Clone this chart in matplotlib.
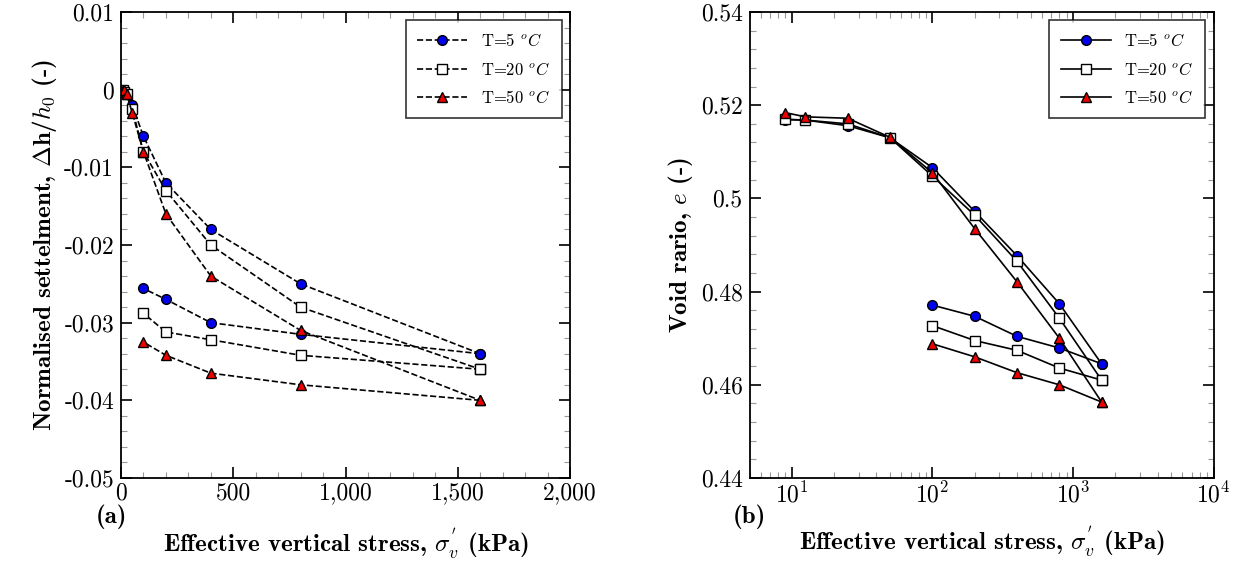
import matplotlib
matplotlib.use("Agg")
import matplotlib.pyplot as plt
from matplotlib.ticker import MultipleLocator, FuncFormatter, LogLocator

plt.rcParams["mathtext.fontset"] = "cm"
plt.rcParams["font.family"] = "cmr10"
plt.rcParams["axes.unicode_minus"] = False
plt.rcParams["axes.formatter.use_mathtext"] = True

load_stress = [9, 12.5, 25, 50, 100, 200, 400, 800, 1600]
unload_stress = [1600, 800, 400, 200, 100]

settle_load = {
    5: [0, -0.0002, -0.0005, -0.002, -0.006, -0.012, -0.018, -0.025, -0.034],
    20: [0, -0.0003, -0.0005, -0.0025, -0.008, -0.013, -0.020, -0.028, -0.036],
    50: [0, 0, -0.0005, -0.003, -0.008, -0.016, -0.024, -0.031, -0.040],
}
settle_unload = {
    5: [-0.034, -0.0315, -0.030, -0.027, -0.0256],
    20: [-0.036, -0.0342, -0.0322, -0.0312, -0.0288],
    50: [-0.040, -0.038, -0.0365, -0.0342, -0.0325],
}
void_load = {
    5: [0.5169, 0.5168, 0.5156, 0.5130, 0.5066, 0.4972, 0.4877, 0.4774, 0.4645],
    20: [0.5170, 0.5168, 0.5160, 0.5130, 0.5048, 0.4964, 0.4865, 0.4743, 0.4610],
    50: [0.5184, 0.5175, 0.5172, 0.5131, 0.5055, 0.4935, 0.4821, 0.4700, 0.4563],
}
void_unload = {
    5: [0.4645, 0.4679, 0.4704, 0.4747, 0.4771],
    20: [0.4610, 0.4636, 0.4674, 0.4695, 0.4727],
    50: [0.4563, 0.4600, 0.4626, 0.4660, 0.4688],
}

styles = {
    5: dict(marker="o", mfc="#0000ee", mec="black"),
    20: dict(marker="s", mfc="white", mec="black"),
    50: dict(marker="^", mfc="#ee0000", mec="black"),
}


def style_axes(ax):
    ax.tick_params(which="both", direction="in", top=True, right=True, labelsize=17, pad=5)
    ax.tick_params(axis="x", pad=3)
    ax.tick_params(which="major", length=8, width=1.2)
    ax.tick_params(which="minor", length=4, width=0.8, color="#999999")
    for s in ax.spines.values():
        s.set_linewidth(1.3)


fig = plt.figure(figsize=(12.51, 5.72), dpi=100)
ax1 = fig.add_axes([121 / 1251, 94 / 572, 449 / 1251, 466 / 572])
ax2 = fig.add_axes([749.5 / 1251, 94 / 572, 464 / 1251, 466 / 572])

for T in (5, 20, 50):
    st = styles[T]
    ax1.plot(load_stress, settle_load[T], ls="--", color="black", lw=1.2, ms=7,
             label=f"T={T} $^oC$", **st)
    ax1.plot(unload_stress, settle_unload[T], ls="--", color="black", lw=1.2, ms=7, **st)
    ax2.plot(load_stress, void_load[T], ls="-", color="black", lw=1.2, ms=7,
             label=f"T={T} $^oC$", **st)
    ax2.plot(unload_stress, void_unload[T], ls="-", color="black", lw=1.2, ms=7, **st)

ax1.set_xlim(0, 2000)
ax1.set_ylim(-0.05, 0.01)
ax1.xaxis.set_major_locator(MultipleLocator(500))
ax1.xaxis.set_minor_locator(MultipleLocator(100))
ax1.yaxis.set_major_locator(MultipleLocator(0.01))
ax1.yaxis.set_minor_locator(MultipleLocator(0.002))
ax1.xaxis.set_major_formatter(FuncFormatter(lambda v, p: f"{v:,.0f}"))
ax1.yaxis.set_major_formatter(FuncFormatter(lambda v, p: "0" if abs(v) < 1e-9 else f"{v:.2f}"))
style_axes(ax1)
ax1.set_ylabel(r"Normalised settelment, $\Delta$h/$h_0$ (-)", family="cmb10", fontsize=18)
ax1.set_xlabel(r"Effective vertical stress, $\sigma_v^{'}$ (kPa)", family="cmb10", fontsize=18,
               labelpad=16)
leg = ax1.legend(loc="upper right", fontsize=12, fancybox=False, edgecolor="black",
                 handlelength=3, borderpad=0.7, labelspacing=0.7)
leg.get_frame().set_linewidth(1.2)

ax2.set_xscale("log")
ax2.set_xlim(5, 1e4)
ax2.set_ylim(0.44, 0.54)
ax2.yaxis.set_major_locator(MultipleLocator(0.02))
ax2.yaxis.set_minor_locator(MultipleLocator(0.004))
ax2.yaxis.set_major_formatter(FuncFormatter(lambda v, p: f"{v:.2f}".rstrip("0")))
ax2.xaxis.set_minor_locator(LogLocator(subs=range(2, 10)))
style_axes(ax2)
ax2.set_ylabel(r"Void rario, $e$ (-)", family="cmb10", fontsize=18)
ax2.set_xlabel(r"Effective vertical stress, $\sigma_v^{'}$ (kPa)", family="cmb10", fontsize=18,
               labelpad=12)
leg = ax2.legend(loc="upper right", fontsize=12, fancybox=False, edgecolor="black",
                 handlelength=3, borderpad=0.7, labelspacing=0.7)
leg.get_frame().set_linewidth(1.2)

fig.text(96 / 1251, 1 - 517 / 572, "(a)", family="cmb10", fontsize=18, va="center")
fig.text(733 / 1251, 1 - 517 / 572, "(b)", family="cmb10", fontsize=18, va="center")

fig.savefig("out.png", dpi=100)
